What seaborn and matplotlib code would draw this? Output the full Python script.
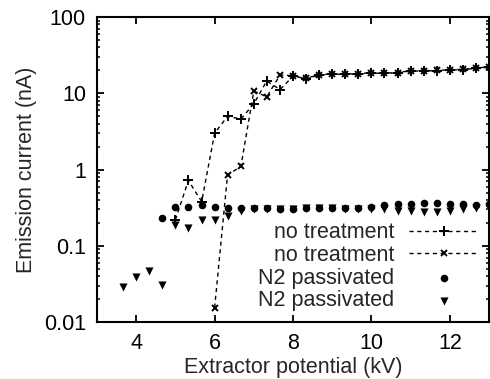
import matplotlib
matplotlib.use("Agg")
import matplotlib.pyplot as plt
import matplotlib.ticker as mticker
import numpy as np
import pandas as pd
import seaborn as sns

# Extractor potential grid (kV)
kv_plus = [5.0, 5.33, 5.67, 6.0, 6.33, 6.67, 7.0, 7.33, 7.67, 8.0, 8.33, 8.67,
           9.0, 9.33, 9.67, 10.0, 10.33, 10.67, 11.0, 11.33, 11.67, 12.0,
           12.33, 12.67, 13.0]
cur_plus = [0.22, 0.72, 0.38, 3.0, 5.0, 4.6, 7.3, 14.5, 11.2, 16.8, 15.6, 17.3,
            17.8, 17.8, 17.8, 18.5, 18.2, 18.6, 19.6, 19.6, 19.8, 20.1,
            20.5, 21.2, 22.0]

kv_cross = [6.0, 6.33, 6.67, 7.0, 7.33, 7.67, 8.0, 8.33, 8.67, 9.0, 9.33,
            9.67, 10.0, 10.33, 10.67, 11.0, 11.33, 11.67, 12.0, 12.33, 12.67,
            13.0]
cur_cross = [0.0155, 0.85, 1.1, 10.7, 9.0, 17.4, 17.0, 15.8, 17.5, 18.0, 18.0,
             18.0, 18.7, 18.4, 18.7, 19.8, 19.8, 20.0, 20.3, 20.7, 21.4, 22.3]

kv_circle = [4.67, 5.0, 5.33, 5.67, 6.0, 6.33, 6.67, 7.0, 7.33, 7.67, 8.0,
             8.33, 8.67, 9.0, 9.33, 9.67, 10.0, 10.33, 10.67, 11.0, 11.33,
             11.67, 12.0, 12.33, 12.67, 13.0]
cur_circle = [0.23, 0.32, 0.32, 0.34, 0.32, 0.31, 0.31, 0.31, 0.31, 0.30, 0.30,
              0.31, 0.31, 0.31, 0.31, 0.31, 0.32, 0.34, 0.35, 0.35, 0.36,
              0.36, 0.35, 0.35, 0.34, 0.35]

kv_tri = [3.67, 4.0, 4.33, 4.67, 5.0, 5.33, 5.67, 6.0, 6.33, 6.67, 7.0, 7.33,
          7.67, 8.0, 8.33, 8.67, 9.0, 9.33, 9.67, 10.0, 10.33, 10.67, 11.0,
          11.33, 11.67, 12.0, 12.33, 12.67, 13.0]
cur_tri = [0.029, 0.039, 0.047, 0.031, 0.19, 0.17, 0.22, 0.22, 0.25, 0.29,
           0.30, 0.30, 0.30, 0.30, 0.31, 0.31, 0.31, 0.30, 0.30, 0.30, 0.30,
           0.29, 0.29, 0.28, 0.28, 0.29, 0.30, 0.31, 0.32]

x_ticks = [4, 6, 8, 10, 12]
y_ticks = [0.01, 0.1, 1, 10, 100]
y_tick_labels = ["0.01", "0.1", "1", "10", "100"]

sns.set_style("ticks")
plt.rcParams["font.family"] = ["Liberation Sans", "DejaVu Sans"]
fs = 15.5
plt.rcParams["font.size"] = fs

fig = plt.figure(figsize=(4.9, 3.79), dpi=100)
ax = fig.add_axes([0.198, 0.150, 0.800, 0.805])

dash = (0, (3.0, 2.6))
sns.lineplot(x=kv_plus, y=cur_plus, ax=ax, color="k", lw=1.0, ls=dash,
             marker="+", ms=6.5, mew=1.4, mec="k", label="no treatment")
sns.lineplot(x=kv_cross, y=cur_cross, ax=ax, color="k", lw=1.0, ls=dash,
             marker="x", ms=5.0, mew=1.4, mec="k", label="no treatment")
sns.scatterplot(x=kv_circle, y=cur_circle, ax=ax, color="k", marker="o",
                s=30, linewidth=0, label="N2 passivated")
sns.scatterplot(x=kv_tri, y=cur_tri, ax=ax, color="k", marker="v",
                s=34, linewidth=0, label="N2 passivated")

ax.set_yscale("log")
ax.set_xlim(3, 13)
ax.set_ylim(0.01, 100)
ax.set_xticks(x_ticks)
ax.xaxis.set_minor_locator(mticker.NullLocator())
ax.set_yticks(y_ticks)
ax.set_yticklabels(y_tick_labels)
ax.yaxis.set_minor_locator(mticker.LogLocator(base=10, subs=np.arange(2, 10)))
ax.yaxis.set_minor_formatter(mticker.NullFormatter())

ax.tick_params(which="both", direction="in", top=True, right=True,
               colors="k", labelsize=fs)
ax.tick_params(which="major", length=5, width=1.3, pad=8)
ax.tick_params(which="minor", length=2.5, width=1.1)
for sp in ax.spines.values():
    sp.set_linewidth(1.5)
    sp.set_color("k")

ax.set_xlabel("Extractor potential (kV)", fontsize=fs, labelpad=2)
ax.set_ylabel("Emission current (nA)", fontsize=fs, labelpad=5)

ax.legend(loc="lower right", frameon=False, markerfirst=False,
          handlelength=3.2, handletextpad=0.7, labelspacing=0.08,
          borderaxespad=0.2, borderpad=0.3, fontsize=fs)

fig.savefig("out.png", dpi=100)
